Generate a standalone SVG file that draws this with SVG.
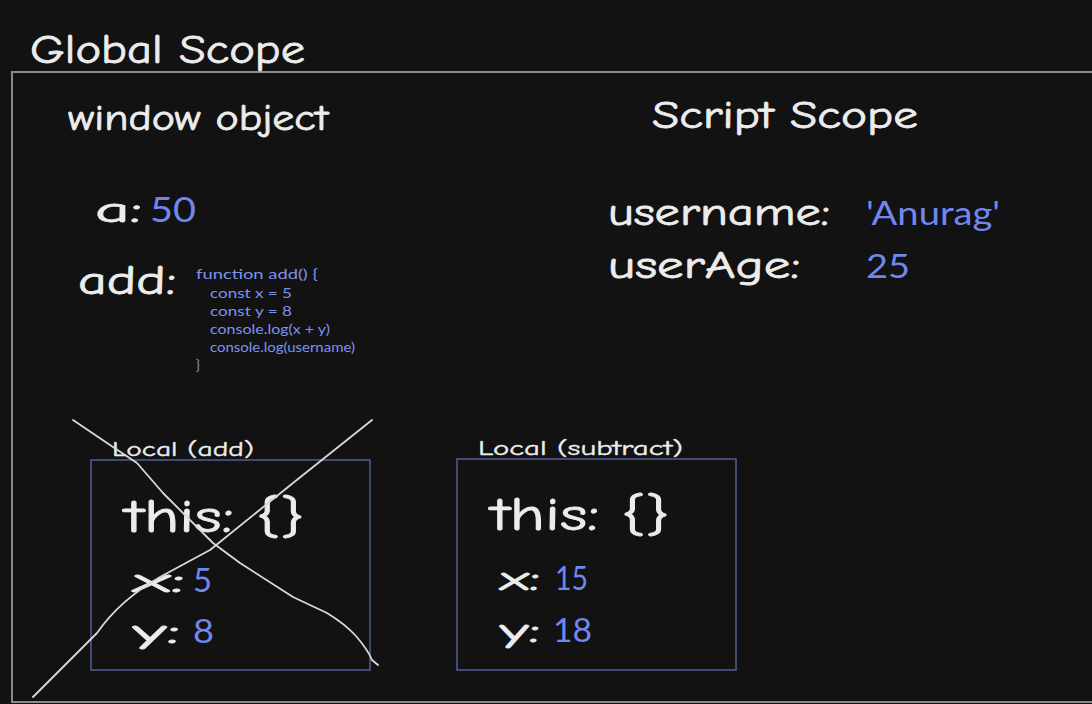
<svg xmlns="http://www.w3.org/2000/svg" width="1092" height="704" viewBox="0 0 1092 704">
<style>
.t{font-family:"Comic Neue","Lato","Liberation Sans",sans-serif;fill:#ececec;stroke:#ececec;stroke-width:0.8}
.b{font-family:"Lato","Liberation Sans",sans-serif;fill:#7088ee}
.code{font-family:"Lato","Liberation Sans",sans-serif;fill:#7d92f0;font-size:13px}
.box{fill:none;stroke:#4c5b8c;stroke-width:1.6}
.frame{fill:none;stroke:#8a8a8a;stroke-width:2}
.cross{fill:none;stroke:#d8d8d8;stroke-width:1.8;stroke-linecap:round;stroke-linejoin:round}
</style>
<rect width="1092" height="704" fill="#121212"/>
<g id="global-scope">
<path class="frame" d="M1092 72 H12 V702 H1092"/>
<text class="t" x="30" y="63" font-size="40" textLength="275" lengthAdjust="spacingAndGlyphs">Global Scope</text>
</g>
<g id="window-object">
<text class="t" x="68" y="130" font-size="36" textLength="260" lengthAdjust="spacingAndGlyphs">window object</text>
<text class="t" x="95" y="222" font-size="36" textLength="47" lengthAdjust="spacingAndGlyphs">a:</text>
<text class="b" x="150" y="222" font-size="34" textLength="46" lengthAdjust="spacingAndGlyphs">50</text>
<text class="t" x="78" y="294" font-size="40" textLength="98" lengthAdjust="spacingAndGlyphs">add:</text>
<text class="code" x="196" y="279" textLength="122" lengthAdjust="spacingAndGlyphs">function add() {</text>
<text class="code" x="210" y="298" textLength="82" lengthAdjust="spacingAndGlyphs">const x = 5</text>
<text class="code" x="210" y="316" textLength="82" lengthAdjust="spacingAndGlyphs">const y = 8</text>
<text class="code" x="210" y="334" textLength="120" lengthAdjust="spacingAndGlyphs">console.log(x + y)</text>
<text class="code" x="210" y="352" textLength="145" lengthAdjust="spacingAndGlyphs">console.log(username)</text>
<text class="code" x="196" y="370">}</text>
</g>
<g id="script-scope">
<text class="t" x="652" y="128" font-size="38" textLength="266" lengthAdjust="spacingAndGlyphs">Script Scope</text>
<text class="t" x="608" y="225" font-size="38" textLength="222" lengthAdjust="spacingAndGlyphs">username:</text>
<text class="b" x="866" y="225" font-size="32" textLength="134" lengthAdjust="spacingAndGlyphs">'Anurag'</text>
<text class="t" x="608" y="278" font-size="38" textLength="192" lengthAdjust="spacingAndGlyphs">userAge:</text>
<text class="b" x="866" y="278" font-size="32" textLength="44" lengthAdjust="spacingAndGlyphs">25</text>
</g>
<g id="local-add">
<text class="t" x="112" y="456" font-size="21" textLength="142" lengthAdjust="spacingAndGlyphs" style="stroke-width:0.4">Local (add)</text>
<rect class="box" x="91" y="460" width="279" height="210"/>
<text class="t" x="125" y="532" font-size="46" textLength="180" lengthAdjust="spacingAndGlyphs">this: {}</text>
<text class="t" x="133" y="592" font-size="34" textLength="52" lengthAdjust="spacingAndGlyphs">x:</text>
<text class="b" x="193" y="592" font-size="32" textLength="19" lengthAdjust="spacingAndGlyphs">5</text>
<text class="t" x="133" y="643" font-size="34" textLength="47" lengthAdjust="spacingAndGlyphs">y:</text>
<text class="b" x="193" y="643" font-size="32" textLength="21" lengthAdjust="spacingAndGlyphs">8</text>
</g>
<g id="local-subtract">
<text class="t" x="478" y="455" font-size="21" textLength="205" lengthAdjust="spacingAndGlyphs" style="stroke-width:0.4">Local (subtract)</text>
<rect class="box" x="457" y="459" width="279" height="211"/>
<text class="t" x="491" y="530" font-size="46" textLength="179" lengthAdjust="spacingAndGlyphs">this: {}</text>
<text class="t" x="500" y="590" font-size="34" textLength="40" lengthAdjust="spacingAndGlyphs">x:</text>
<text class="b" x="555" y="590" font-size="32" textLength="33" lengthAdjust="spacingAndGlyphs">15</text>
<text class="t" x="500" y="642" font-size="34" textLength="40" lengthAdjust="spacingAndGlyphs">y:</text>
<text class="b" x="553" y="642" font-size="32" textLength="39" lengthAdjust="spacingAndGlyphs">18</text>
</g>
<g id="connectors">
<path class="cross" d="M73 420 L110 445 L137 463 L163 493 L213 543 L240 563 L293 597 L327 613 Q345 624 356 636 Q368 650 372 660 L378 665"/>
<path class="cross" d="M372 420 L293 483 L210 550 L160 577 Q120 600 97 633 L62 668 L33 697"/>
</g>
</svg>
